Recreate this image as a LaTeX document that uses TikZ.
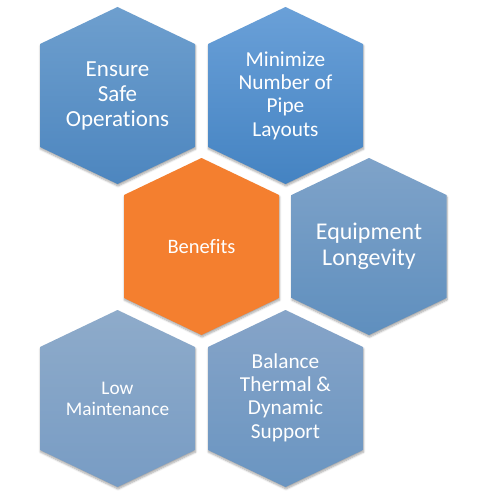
\documentclass[tikz,border=0pt]{standalone}
\usepackage{fontspec}
\setmainfont[Ligatures=CommonOff]{Carlito}
\usetikzlibrary{shadows.blur}
\definecolor{cAtop}{HTML}{6E9FCE}
\definecolor{cAbot}{HTML}{4D86BF}
\definecolor{cBtop}{HTML}{6AA0D8}
\definecolor{cBbot}{HTML}{4483C2}
\definecolor{cDtop}{HTML}{7FA3C9}
\definecolor{cDbot}{HTML}{5F8FBE}
\definecolor{cEtop}{HTML}{8EABCA}
\definecolor{cEbot}{HTML}{789CC4}
\definecolor{cFtop}{HTML}{86A4C8}
\definecolor{cFbot}{HTML}{6A95C1}
\definecolor{cOrange}{HTML}{F47F2F}
\tikzset{
  hexshape/.style={blur shadow={shadow xshift=0.5pt, shadow yshift=-2pt, shadow blur steps=6, shadow blur radius=2pt, shadow opacity=35}},
  hextext/.style={text=white, align=center, inner sep=0pt}
}
\newcommand{\hexcell}[4]{% cx, top, topcolor, bottomcolor
  \path[hexshape, top color=#3, bottom color=#4]
    (#1,#2) -- ++(77.5,37) -- ++(0,103) -- ++(-77.5,37) -- ++(-77.5,-37) -- ++(0,-103) -- cycle;
}
\begin{document}
\begin{tikzpicture}[x=1pt,y=-1pt]
\useasboundingbox (0,0) rectangle (491,500);
\hexcell{117.5}{7}{cAtop}{cAbot}
\hexcell{285.5}{7}{cBtop}{cBbot}
\hexcell{201.5}{158}{cOrange}{cOrange}
\hexcell{369}{158}{cDtop}{cDbot}
\hexcell{117.5}{310}{cEtop}{cEbot}
\hexcell{285.5}{310}{cFtop}{cFbot}
\node[hextext, font=\fontsize{23}{25}\selectfont] (safe) at (117.5,95.5) {Ensure\\Safe\\Operations};
\node[hextext, font=\fontsize{21.3}{23.3}\selectfont] (pipe) at (285.5,95.5) {Minimize\\Number of\\Pipe\\Layouts};
\node[hextext, font=\fontsize{20.5}{23}\selectfont] (benefits) at (201.5,246.5) {Benefits};
\node[hextext, font=\fontsize{24}{26}\selectfont] (equip) at (369,246.5) {Equipment\\Longevity};
\node[hextext, font=\fontsize{19.3}{21}\selectfont] (lowm) at (117.5,398.5) {Low\\Maintenance};
\node[hextext, font=\fontsize{21.3}{23.3}\selectfont] (balance) at (285.5,397.5) {Balance\\Thermal \&\\Dynamic\\Support};
\end{tikzpicture}
\end{document}
